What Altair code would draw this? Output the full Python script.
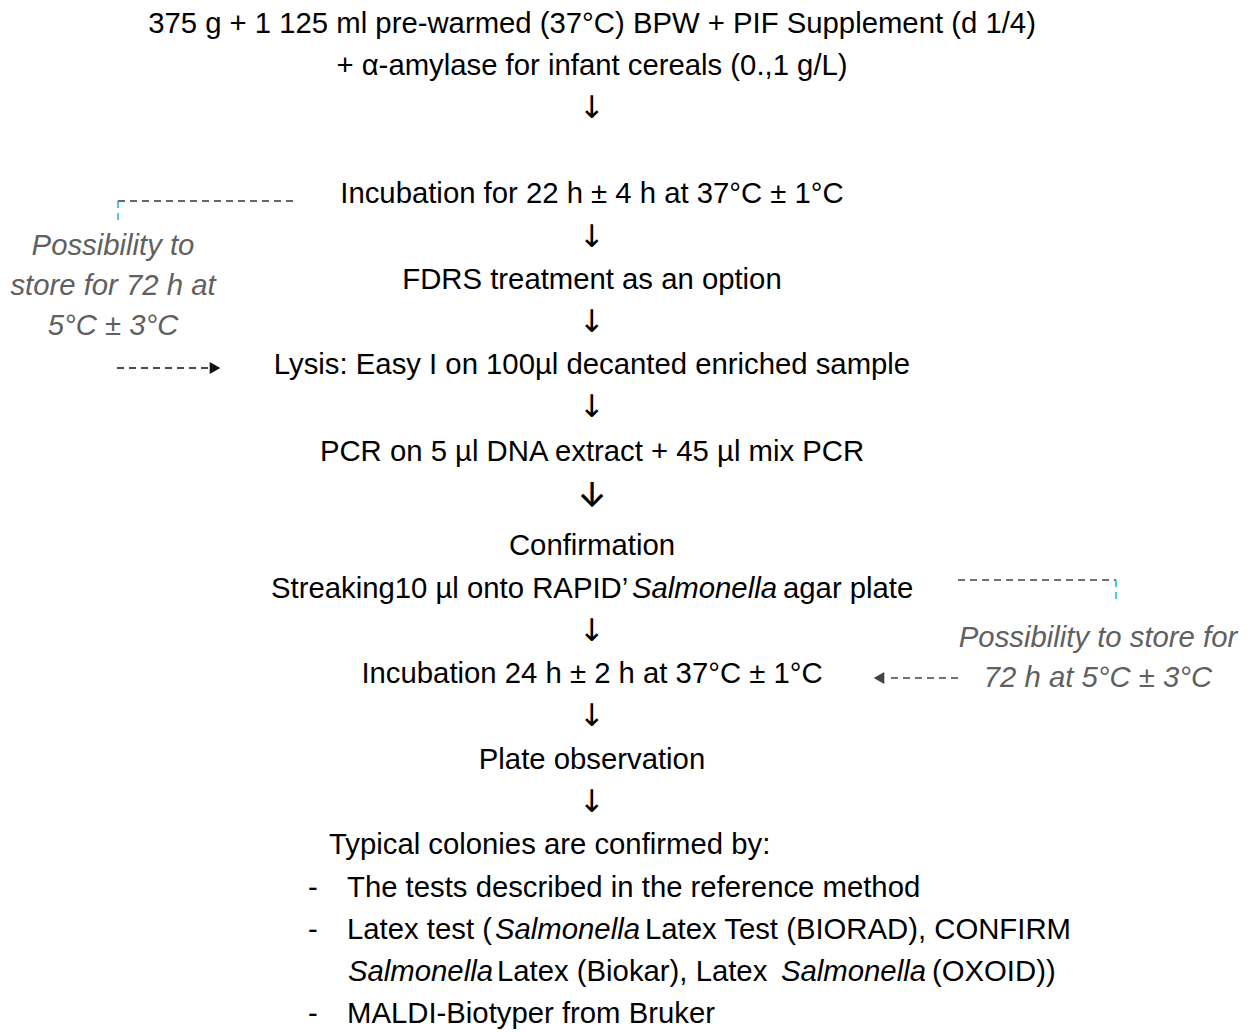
import altair as alt
import pandas as pd

FONT = "Liberation Sans"
FS = 29.3

# Centered flow steps
center_text = [
    "375 g + 1 125 ml pre-warmed (37°C) BPW + PIF Supplement (d 1/4)",
    "+ α-amylase for infant cereals (0.,1 g/L)",
    "Incubation for 22 h ± 4 h at 37°C ± 1°C",
    "FDRS treatment as an option",
    "Lysis: Easy I on 100µl decanted enriched sample",
    "PCR on 5 µl DNA extract + 45 µl mix PCR",
    "Confirmation",
    "Incubation 24 h ± 2 h at 37°C ± 1°C",
    "Plate observation",
]
center_y = [24, 66, 194, 280, 365, 452, 546, 674, 760]
center_x = 592

arrow_text = ["↓"] * 7
arrow_y = [109, 238, 323, 408, 632, 717, 803]

big_arrow = ["↓"]
big_arrow_y = [497]

# Left-aligned segments (normal)
left_text = [
    "Streaking10 µl onto RAPID’",
    "agar plate",
    "Typical colonies are confirmed by:",
    "-", "The tests described in the reference method",
    "-", "Latex test (", "Latex Test (BIORAD), CONFIRM",
    "Latex (Biokar), Latex", "(OXOID))",
    "-", "MALDI-Biotyper from Bruker",
]
left_x = [271, 783, 329, 308, 347, 308, 347, 645, 497, 932, 308, 347]
left_y = [589, 589, 845, 888, 888, 930, 930, 930, 972, 972, 1014, 1014]

# Italic segments
ital_text = ["Salmonella", "Salmonella", "Salmonella", "Salmonella"]
ital_x = [632, 495, 348, 781]
ital_y = [589, 930, 972, 972]

# Side notes (gray italic, centered)
note_text = ["Possibility to", "store for 72 h at", "5°C ± 3°C",
             "Possibility to store for", "72 h at 5°C ± 3°C"]
note_x = [113, 113, 113, 1098, 1098]
note_y = [246, 286, 326, 638, 678]

# Dashed connector lines
dash_x1 = [118, 117, 958, 958]
dash_x2 = [295, 208, 1116, 886]
dash_y = [201, 368, 580, 678]
dash_col = ["#333333", "#111111", "#444444", "#444444"]

# Cyan short vertical ticks
tick_x = [118, 1116]
tick_y1 = [201, 580]
tick_y2 = [222, 602]

# Arrowheads
head_x = [215, 879]
head_y = [368, 678]
head_shape = ["triangle-right", "triangle-left"]
head_col = ["#111111", "#444444"]

xs = alt.Scale(domain=[8, 1244])
ys = alt.Scale(domain=[8, 1032], reverse=True)

def tx(df, align, style="normal", color="#000000", size=FS, font=FONT, weight="normal"):
    return alt.Chart(df).mark_text(
        font=font, fontSize=size, align=align, baseline="middle",
        fontStyle=style, color=color, fontWeight=weight
    ).encode(
        x=alt.X("x:Q", scale=xs, axis=None),
        y=alt.Y("y:Q", scale=ys, axis=None),
        text="t:N",
    )

c_df = pd.DataFrame({"t": center_text, "x": [center_x] * len(center_text), "y": center_y})
a_df = pd.DataFrame({"t": arrow_text, "x": [center_x] * len(arrow_text), "y": arrow_y})
b_df = pd.DataFrame({"t": big_arrow, "x": [center_x], "y": big_arrow_y})
l_df = pd.DataFrame({"t": left_text, "x": left_x, "y": left_y})
i_df = pd.DataFrame({"t": ital_text, "x": ital_x, "y": ital_y})
n_df = pd.DataFrame({"t": note_text, "x": note_x, "y": note_y})

d_df = pd.DataFrame({"x": dash_x1, "x2": dash_x2, "y": dash_y, "c": dash_col})
t_df = pd.DataFrame({"x": tick_x, "y": tick_y1, "y2": tick_y2})
h_df = pd.DataFrame({"x": head_x, "y": head_y, "s": head_shape, "c": head_col})

dashes = alt.Chart(d_df).mark_rule(strokeDash=[7, 5], strokeWidth=1.5).encode(
    x=alt.X("x:Q", scale=xs, axis=None), x2="x2:Q",
    y=alt.Y("y:Q", scale=ys, axis=None),
    color=alt.Color("c:N", scale=None),
)
ticks = alt.Chart(t_df).mark_rule(strokeDash=[7, 5], strokeWidth=1.5, color="#1AB8C4").encode(
    x=alt.X("x:Q", scale=xs, axis=None),
    y=alt.Y("y:Q", scale=ys, axis=None), y2="y2:Q",
)
heads = alt.Chart(h_df).mark_point(filled=True, size=150, opacity=1).encode(
    x=alt.X("x:Q", scale=xs, axis=None),
    y=alt.Y("y:Q", scale=ys, axis=None),
    shape=alt.Shape("s:N", scale=None),
    color=alt.Color("c:N", scale=None),
)

chart = alt.layer(
    dashes, ticks, heads,
    tx(c_df, "center"),
    tx(a_df, "center", size=31, font="DejaVu Sans"),
    tx(b_df, "center", size=34, font="Inter", weight=500),
    tx(l_df, "left"),
    tx(i_df, "left", style="italic"),
    tx(n_df, "center", style="italic", color="#606060"),
).properties(
    width=1236, height=1024, padding=0, autosize="none", background="white"
).configure_view(stroke=None)

chart.save("out.html", embed_options={"renderer": "svg", "actions": False})
